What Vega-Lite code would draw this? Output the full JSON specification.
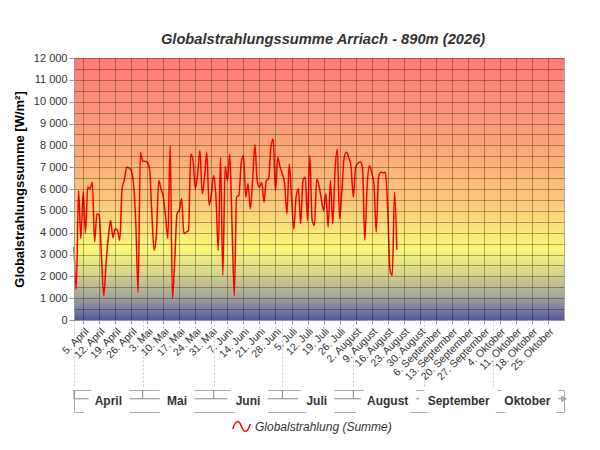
{
  "$schema": "https://vega.github.io/schema/vega-lite/v6.json",
  "padding": {"left": 12, "top": 31, "right": 5, "bottom": 5},
  "title": {
    "text": "Globalstrahlungssumme Arriach - 890m (2026)",
    "fontSize": 14.7,
    "fontStyle": "italic",
    "fontWeight": "bold",
    "color": "#333333",
    "anchor": "middle",
    "offset": 5,
    "dx": 33
  },
  "spacing": 0,
  "resolve": {"scale": {"x": "shared", "color": "shared"}, "legend": {"color": "shared"}},
  "vconcat": [
    {
      "width": 490,
      "height": 262,
      "layer": [
        {
          "data": {"values": [{}]},
          "mark": {
            "type": "rect",
            "color": {
              "gradient": "linear",
              "x1": 0, "y1": 0, "x2": 0, "y2": 1,
              "stops": [
                {"offset": 0, "color": "#ff7878"},
                {"offset": 0.35, "color": "#fca878"},
                {"offset": 0.55, "color": "#fbc87a"},
                {"offset": 0.73, "color": "#f9f87a"},
                {"offset": 0.82, "color": "#d6d68c"},
                {"offset": 0.91, "color": "#a6a69c"},
                {"offset": 1, "color": "#5656a0"}
              ]
            }
          },
          "encoding": {
            "x": {
              "datum": {"year": 2026, "month": 4, "date": 1},
              "type": "temporal",
              "scale": {"domain": [{"year": 2026, "month": 4, "date": 1}, {"year": 2026, "month": 11, "date": 1}]},
              "axis": {
                "orient": "bottom",
                "values": [
                  {"year": 2026, "month": 4, "date": 1},
                  {"year": 2026, "month": 5, "date": 1},
                  {"year": 2026, "month": 6, "date": 1},
                  {"year": 2026, "month": 7, "date": 1},
                  {"year": 2026, "month": 8, "date": 1},
                  {"year": 2026, "month": 9, "date": 1},
                  {"year": 2026, "month": 10, "date": 1}
                ],
                "labels": false,
                "domain": false,
                "grid": false,
                "title": null,
                "tickSize": 68,
                "tickColor": "#cccccc",
                "tickDash": [2, 2]
              }
            },
            "x2": {"datum": {"year": 2026, "month": 11, "date": 1}},
            "y": {"datum": 0, "type": "quantitative", "scale": {"domain": [0, 12000]}, "axis": null},
            "y2": {"datum": 12000}
          }
        },
        {
          "data": {
            "values": [
              {"d": "2026-04-01", "v": 3350}, {"d": "2026-04-02", "v": 1400}, {"d": "2026-04-03", "v": 5930},
              {"d": "2026-04-04", "v": 3730}, {"d": "2026-04-05", "v": 5860}, {"d": "2026-04-06", "v": 3990},
              {"d": "2026-04-07", "v": 6090}, {"d": "2026-04-08", "v": 6010}, {"d": "2026-04-09", "v": 6310},
              {"d": "2026-04-10", "v": 3580}, {"d": "2026-04-11", "v": 4870}, {"d": "2026-04-12", "v": 4790},
              {"d": "2026-04-13", "v": 2890}, {"d": "2026-04-14", "v": 1110}, {"d": "2026-04-15", "v": 2590},
              {"d": "2026-04-16", "v": 3800}, {"d": "2026-04-17", "v": 4560}, {"d": "2026-04-18", "v": 3770},
              {"d": "2026-04-19", "v": 4180}, {"d": "2026-04-20", "v": 4100}, {"d": "2026-04-21", "v": 3650},
              {"d": "2026-04-22", "v": 6010}, {"d": "2026-04-23", "v": 6420}, {"d": "2026-04-24", "v": 7000},
              {"d": "2026-04-25", "v": 6970}, {"d": "2026-04-26", "v": 6840}, {"d": "2026-04-27", "v": 6240},
              {"d": "2026-04-28", "v": 4410}, {"d": "2026-04-29", "v": 1260}, {"d": "2026-04-30", "v": 7680},
              {"d": "2026-05-01", "v": 7270}, {"d": "2026-05-02", "v": 7270}, {"d": "2026-05-03", "v": 7220},
              {"d": "2026-05-04", "v": 6920}, {"d": "2026-05-05", "v": 4870}, {"d": "2026-05-06", "v": 3190},
              {"d": "2026-05-07", "v": 3950}, {"d": "2026-05-08", "v": 6390}, {"d": "2026-05-09", "v": 6010},
              {"d": "2026-05-10", "v": 5630}, {"d": "2026-05-11", "v": 4720}, {"d": "2026-05-12", "v": 3730},
              {"d": "2026-05-13", "v": 7990}, {"d": "2026-05-14", "v": 990}, {"d": "2026-05-15", "v": 2740},
              {"d": "2026-05-16", "v": 4870}, {"d": "2026-05-17", "v": 5020}, {"d": "2026-05-18", "v": 5550},
              {"d": "2026-05-19", "v": 3950}, {"d": "2026-05-20", "v": 4030}, {"d": "2026-05-21", "v": 4100},
              {"d": "2026-05-22", "v": 7600}, {"d": "2026-05-23", "v": 7300}, {"d": "2026-05-24", "v": 6010},
              {"d": "2026-05-25", "v": 6690}, {"d": "2026-05-26", "v": 7760}, {"d": "2026-05-27", "v": 5780},
              {"d": "2026-05-28", "v": 6540}, {"d": "2026-05-29", "v": 7680}, {"d": "2026-05-30", "v": 5250},
              {"d": "2026-05-31", "v": 5780}, {"d": "2026-06-01", "v": 6620}, {"d": "2026-06-02", "v": 5630},
              {"d": "2026-06-03", "v": 3190}, {"d": "2026-06-04", "v": 7450}, {"d": "2026-06-05", "v": 2050},
              {"d": "2026-06-06", "v": 7030}, {"d": "2026-06-07", "v": 6390}, {"d": "2026-06-08", "v": 7600},
              {"d": "2026-06-09", "v": 4410}, {"d": "2026-06-10", "v": 1110}, {"d": "2026-06-11", "v": 5630},
              {"d": "2026-06-12", "v": 5700}, {"d": "2026-06-13", "v": 7150}, {"d": "2026-06-14", "v": 7530},
              {"d": "2026-06-15", "v": 5630}, {"d": "2026-06-16", "v": 6240}, {"d": "2026-06-17", "v": 5100},
              {"d": "2026-06-18", "v": 6390}, {"d": "2026-06-19", "v": 8030}, {"d": "2026-06-20", "v": 6390},
              {"d": "2026-06-21", "v": 6080}, {"d": "2026-06-22", "v": 6310}, {"d": "2026-06-23", "v": 5400},
              {"d": "2026-06-24", "v": 6390}, {"d": "2026-06-25", "v": 6460}, {"d": "2026-06-26", "v": 7910},
              {"d": "2026-06-27", "v": 8290}, {"d": "2026-06-28", "v": 5930}, {"d": "2026-06-29", "v": 7450},
              {"d": "2026-06-30", "v": 7000}, {"d": "2026-07-01", "v": 6690}, {"d": "2026-07-02", "v": 6240},
              {"d": "2026-07-03", "v": 4870}, {"d": "2026-07-04", "v": 7150}, {"d": "2026-07-05", "v": 5630},
              {"d": "2026-07-06", "v": 4180}, {"d": "2026-07-07", "v": 5630}, {"d": "2026-07-08", "v": 6010},
              {"d": "2026-07-09", "v": 4410}, {"d": "2026-07-10", "v": 6390}, {"d": "2026-07-11", "v": 6540},
              {"d": "2026-07-12", "v": 4560}, {"d": "2026-07-13", "v": 7530}, {"d": "2026-07-14", "v": 4560},
              {"d": "2026-07-15", "v": 4330}, {"d": "2026-07-16", "v": 6460}, {"d": "2026-07-17", "v": 6160},
              {"d": "2026-07-18", "v": 5550}, {"d": "2026-07-19", "v": 5020}, {"d": "2026-07-20", "v": 5780},
              {"d": "2026-07-21", "v": 4260}, {"d": "2026-07-22", "v": 6390}, {"d": "2026-07-23", "v": 4410},
              {"d": "2026-07-24", "v": 6840}, {"d": "2026-07-25", "v": 7830}, {"d": "2026-07-26", "v": 4640},
              {"d": "2026-07-27", "v": 5930}, {"d": "2026-07-28", "v": 7450}, {"d": "2026-07-29", "v": 7680},
              {"d": "2026-07-30", "v": 7450}, {"d": "2026-07-31", "v": 7000}, {"d": "2026-08-01", "v": 5630},
              {"d": "2026-08-02", "v": 7000}, {"d": "2026-08-03", "v": 7180}, {"d": "2026-08-04", "v": 7250},
              {"d": "2026-08-05", "v": 7000}, {"d": "2026-08-06", "v": 3650}, {"d": "2026-08-07", "v": 6080},
              {"d": "2026-08-08", "v": 7070}, {"d": "2026-08-09", "v": 6770}, {"d": "2026-08-10", "v": 6240},
              {"d": "2026-08-11", "v": 4030}, {"d": "2026-08-12", "v": 6540}, {"d": "2026-08-13", "v": 6770},
              {"d": "2026-08-14", "v": 6740}, {"d": "2026-08-15", "v": 6770}, {"d": "2026-08-16", "v": 5170},
              {"d": "2026-08-17", "v": 2300}, {"d": "2026-08-18", "v": 2050}, {"d": "2026-08-19", "v": 5860},
              {"d": "2026-08-20", "v": 3220}
            ],
            "format": {"parse": {"d": "date:'%Y-%m-%d'"}}
          },
          "mark": {"type": "line", "interpolate": "monotone", "strokeWidth": 1.5},
          "encoding": {
            "x": {
              "field": "d",
              "type": "temporal",
              "axis": {
                "orient": "bottom",
                "zindex": 1,
                "title": null,
                "values": [
                  {"year": 2026, "month": 4, "date": 5}, {"year": 2026, "month": 4, "date": 12},
                  {"year": 2026, "month": 4, "date": 19}, {"year": 2026, "month": 4, "date": 26},
                  {"year": 2026, "month": 5, "date": 3}, {"year": 2026, "month": 5, "date": 10},
                  {"year": 2026, "month": 5, "date": 17}, {"year": 2026, "month": 5, "date": 24},
                  {"year": 2026, "month": 5, "date": 31}, {"year": 2026, "month": 6, "date": 7},
                  {"year": 2026, "month": 6, "date": 14}, {"year": 2026, "month": 6, "date": 21},
                  {"year": 2026, "month": 6, "date": 28}, {"year": 2026, "month": 7, "date": 5},
                  {"year": 2026, "month": 7, "date": 12}, {"year": 2026, "month": 7, "date": 19},
                  {"year": 2026, "month": 7, "date": 26}, {"year": 2026, "month": 8, "date": 2},
                  {"year": 2026, "month": 8, "date": 9}, {"year": 2026, "month": 8, "date": 16},
                  {"year": 2026, "month": 8, "date": 23}, {"year": 2026, "month": 8, "date": 30},
                  {"year": 2026, "month": 9, "date": 6}, {"year": 2026, "month": 9, "date": 13},
                  {"year": 2026, "month": 9, "date": 20}, {"year": 2026, "month": 9, "date": 27},
                  {"year": 2026, "month": 10, "date": 4}, {"year": 2026, "month": 10, "date": 11},
                  {"year": 2026, "month": 10, "date": 18}, {"year": 2026, "month": 10, "date": 25}
                ],
                "format": "%-d. %B",
                "labelAngle": -45,
                "labelOverlap": false,
                "labelFlush": false,
                "labelFontSize": 10.5,
                "labelColor": "#333333",
                "labelPadding": 2,
                "tickSize": 4,
                "tickColor": "#999999",
                "domainColor": "#999999",
                "grid": true,
                "gridColor": "#000000",
                "gridOpacity": 0.3
              }
            },
            "y": {
              "field": "v",
              "type": "quantitative",
              "axis": {
                "orient": "left",
                "zindex": 1,
                "title": "Globalstrahlungssumme [W/m²]",
                "titleFontSize": 13,
                "titleFontWeight": "bold",
                "titleColor": "#000000",
                "titlePadding": 7,
                "values": [0, 500, 1000, 1500, 2000, 2500, 3000, 3500, 4000, 4500, 5000, 5500, 6000, 6500, 7000, 7500, 8000, 8500, 9000, 9500, 10000, 10500, 11000, 11500, 12000],
                "format": ",d",
                "labelExpr": "datum.value % 1000 == 0 ? datum.label : ''",
                "labelOverlap": false,
                "labelFontSize": 11,
                "labelColor": "#333333",
                "tickSize": 5,
                "tickColor": "#999999",
                "tickOpacity": {"condition": {"test": "datum.value % 1000 != 0", "value": 0}, "value": 1},
                "domainColor": "#999999",
                "grid": true,
                "gridColor": "#000000",
                "gridOpacity": 0.3
              }
            },
            "color": {
              "datum": "Globalstrahlung (Summe)",
              "type": "nominal",
              "scale": {"range": ["#ff0000"]},
              "legend": {
                "orient": "none",
                "legendX": 158,
                "legendY": 359,
                "title": null,
                "labelFontSize": 12,
                "labelFontStyle": "italic",
                "labelColor": "#333333",
                "symbolType": "M-1,0.3 C-0.7,-0.8 -0.3,-0.8 0,0 C0.3,0.8 0.7,0.8 1,-0.3",
                "symbolSize": 300,
                "symbolStrokeWidth": 1.5,
                "symbolFillColor": "transparent",
                "symbolStrokeColor": "#ff0000"
              }
            }
          }
        }
      ],
      "resolve": {"axis": {"x": "independent", "y": "independent"}}
    },
    {
      "width": 490,
      "height": 22,
      "data": {
        "values": [
          {"m": "April", "start": "2026-04-01", "end": "2026-05-01", "mid": "2026-04-16"},
          {"m": "Mai", "start": "2026-05-01", "end": "2026-06-01", "mid": "2026-05-16"},
          {"m": "Juni", "start": "2026-06-01", "end": "2026-07-01", "mid": "2026-06-16"},
          {"m": "Juli", "start": "2026-07-01", "end": "2026-08-01", "mid": "2026-07-16"},
          {"m": "August", "start": "2026-08-01", "end": "2026-09-01", "mid": "2026-08-16"},
          {"m": "September", "start": "2026-09-01", "end": "2026-10-01", "mid": "2026-09-16"},
          {"m": "Oktober", "start": "2026-10-01", "end": "2026-11-01", "mid": "2026-10-16"}
        ],
        "format": {"parse": {"start": "date:'%Y-%m-%d'", "end": "date:'%Y-%m-%d'", "mid": "date:'%Y-%m-%d'"}}
      },
      "layer": [
        {
          "mark": {"type": "rule", "color": "#888888"},
          "encoding": {
            "x": {"field": "start", "type": "temporal", "axis": null, "scale": {"domain": [{"year": 2026, "month": 4, "date": 1}, {"year": 2026, "month": 11, "date": 1}]}},
            "y": {"datum": 1, "type": "quantitative", "scale": {"domain": [0, 1]}, "axis": null},
            "y2": {"datum": 0.6}
          }
        },
        {
          "mark": {"type": "rule", "color": "#888888"},
          "encoding": {
            "x": {"field": "start", "type": "temporal"},
            "x2": {"field": "end"},
            "y": {"datum": 0.6, "type": "quantitative"}
          }
        },
        {
          "mark": {"type": "text", "fontSize": 12, "fontWeight": "bold", "color": "#ffffff", "stroke": "#ffffff", "strokeWidth": 16, "baseline": "middle"},
          "encoding": {
            "x": {"field": "mid", "type": "temporal"},
            "y": {"datum": 0.5, "type": "quantitative"},
            "text": {"field": "m"}
          }
        },
        {
          "mark": {"type": "text", "fontSize": 12, "fontWeight": "bold", "color": "#333333", "baseline": "middle"},
          "encoding": {
            "x": {"field": "mid", "type": "temporal"},
            "y": {"datum": 0.5, "type": "quantitative"},
            "text": {"field": "m"}
          }
        },
        {
          "mark": {"type": "point", "shape": "triangle-right", "filled": true, "color": "#aaaaaa", "size": 40},
          "encoding": {
            "x": {"datum": {"year": 2026, "month": 11, "date": 1}, "type": "temporal"},
            "y": {"datum": 0.6, "type": "quantitative"}
          }
        }
      ]
    }
  ],
  "config": {
    "font": "Liberation Sans",
    "view": {"stroke": "#aaaaaa"},
    "locale": {
      "number": {"decimal": ",", "thousands": " ", "grouping": [3], "currency": ["", " €"]},
      "time": {
        "dateTime": "%A, der %e. %B %Y, %X",
        "date": "%d.%m.%Y",
        "time": "%H:%M:%S",
        "periods": ["AM", "PM"],
        "days": ["Sonntag", "Montag", "Dienstag", "Mittwoch", "Donnerstag", "Freitag", "Samstag"],
        "shortDays": ["So", "Mo", "Di", "Mi", "Do", "Fr", "Sa"],
        "months": ["Januar", "Februar", "März", "April", "Mai", "Juni", "Juli", "August", "September", "Oktober", "November", "Dezember"],
        "shortMonths": ["Jan", "Feb", "Mrz", "Apr", "Mai", "Jun", "Jul", "Aug", "Sep", "Okt", "Nov", "Dez"]
      }
    }
  }
}
